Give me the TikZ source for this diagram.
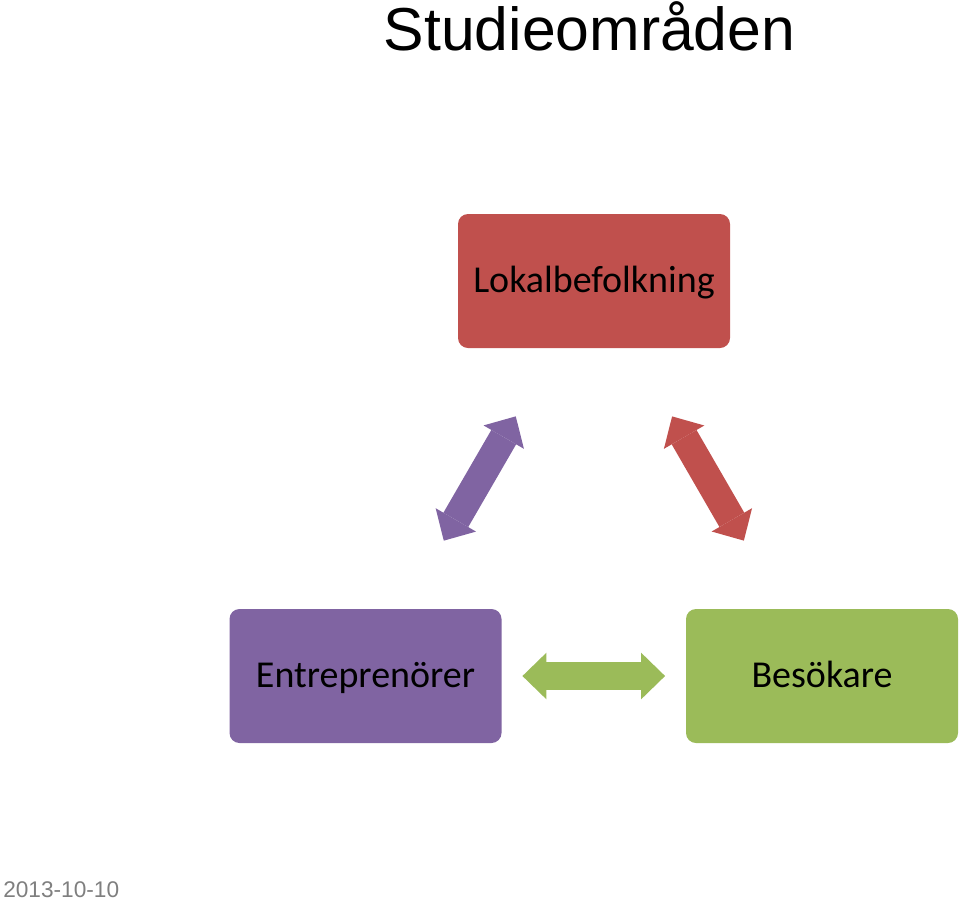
\documentclass[tikz,border=0pt]{standalone}
\usepackage{fontspec}
\setmainfont{Carlito}
\newfontfamily\arialfont{Liberation Sans}
\usepackage{xcolor}
\usepackage{tikz}
\usetikzlibrary{arrows.meta,positioning,calc}
\definecolor{sred}{HTML}{C0504D}
\definecolor{spurple}{HTML}{8064A2}
\definecolor{sgreen}{HTML}{9BBB59}
\definecolor{sgray}{HTML}{7F7F7F}
\tikzset{
  area/.style={rounded corners=7.5pt, minimum width=204pt, minimum height=100.5pt,
    inner sep=0pt, text height=16.5pt, text depth=0pt,
    font=\fontsize{28.5}{32}\selectfont, text=black},
  twoway/.style={line width=21.5pt,
    {Triangle[length=18pt,width=35pt,line width=0pt]}-{Triangle[length=18pt,width=35pt,line width=0pt]}},
}

\begin{document}
\begin{tikzpicture}[x=0.75pt, y=-0.75pt]
\useasboundingbox (0,0) rectangle (959,900);
\node[anchor=base, inner sep=0pt, font=\arialfont\fontsize{45.5}{50}\selectfont] (title) at (589.5,50) {Studieområden};
\node[area, fill=sred] (lok) at (594,281) {Lokalbefolkning};
\node[area, fill=spurple] (ent) at (365.5,676) {Entreprenörer};
\node[area, fill=sgreen] (bes) at (822,676) {Besökare};
\draw[twoway, spurple, shorten <=59pt, shorten >=59pt] (lok) -- (ent);
\draw[twoway, sred, shorten <=59pt, shorten >=59pt] (lok) -- (bes);
\draw[twoway, sgreen, shorten <=15.5pt, shorten >=15.5pt] (ent) -- (bes);
\node[anchor=base west, inner sep=0pt, text=sgray, font=\arialfont\fontsize{17}{20}\selectfont] (date) at (3,897) {2013-10-10};
\end{tikzpicture}
\end{document}
